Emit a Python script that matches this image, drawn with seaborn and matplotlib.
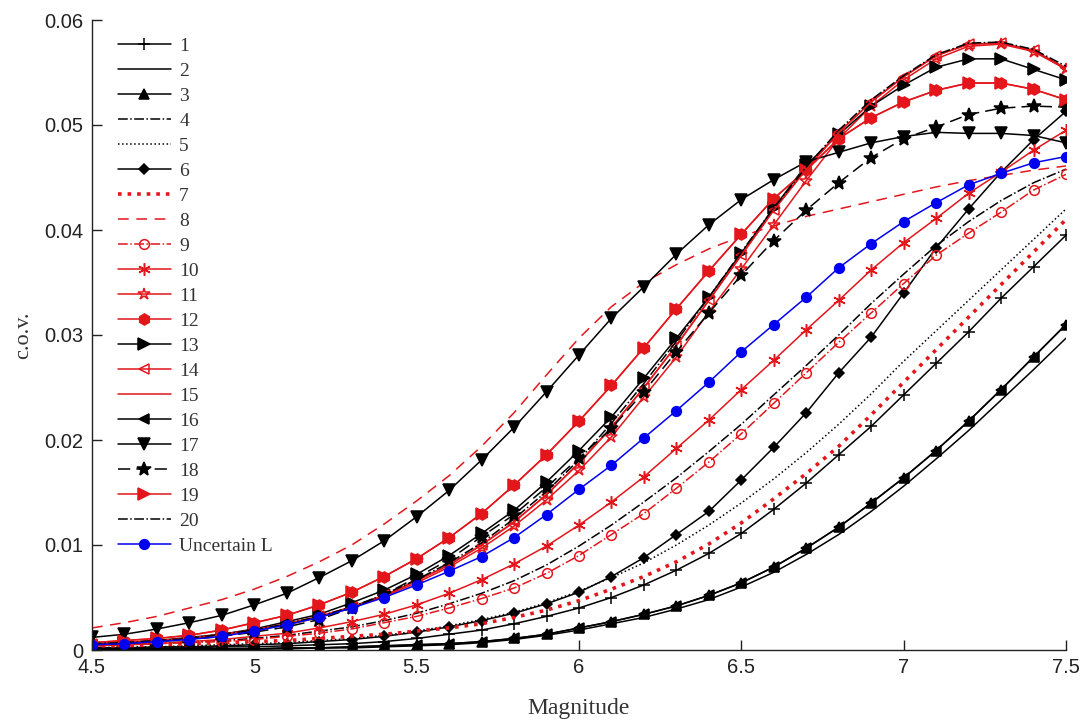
import numpy as np
import pandas as pd
import matplotlib
matplotlib.use("Agg")
import matplotlib.pyplot as plt
import seaborn as sns

magnitude = [4.5, 4.6, 4.7, 4.8, 4.9, 5.0, 5.1, 5.2, 5.3, 5.4, 5.5, 5.6, 5.7, 5.8, 5.9,
             6.0, 6.1, 6.2, 6.3, 6.4, 6.5, 6.6, 6.7, 6.8, 6.9, 7.0, 7.1, 7.2, 7.3, 7.4, 7.5]

s1 = [0.0002, 0.0002, 0.0002, 0.0002, 0.0003, 0.0003, 0.0004, 0.0005, 0.0006, 0.0008, 0.0011, 0.0015, 0.0019, 0.0025, 0.0032,
      0.0040, 0.0050, 0.0062, 0.0076, 0.0092, 0.0111, 0.0134, 0.0159, 0.0186, 0.0213, 0.0243, 0.0273, 0.0303, 0.0335, 0.0365, 0.0395]
s2 = [0.0000, 0.0000, 0.0000, 0.0001, 0.0001, 0.0001, 0.0001, 0.0002, 0.0002, 0.0003, 0.0004, 0.0005, 0.0007, 0.0010, 0.0014,
      0.0019, 0.0025, 0.0031, 0.0039, 0.0048, 0.0060, 0.0074, 0.0091, 0.0110, 0.0132, 0.0156, 0.0182, 0.0209, 0.0238, 0.0267, 0.0297]
s3 = [0.0001, 0.0001, 0.0001, 0.0001, 0.0001, 0.0001, 0.0002, 0.0002, 0.0003, 0.0004, 0.0005, 0.0006, 0.0008, 0.0011, 0.0015,
      0.0021, 0.0027, 0.0034, 0.0042, 0.0052, 0.0064, 0.0079, 0.0097, 0.0117, 0.0140, 0.0164, 0.0190, 0.0218, 0.0248, 0.0279, 0.0310]
s4 = [0.0004, 0.0005, 0.0006, 0.0008, 0.0009, 0.0011, 0.0014, 0.0018, 0.0022, 0.0028, 0.0035, 0.0044, 0.0054, 0.0066, 0.0081,
      0.0099, 0.0119, 0.0141, 0.0164, 0.0189, 0.0215, 0.0243, 0.0271, 0.0300, 0.0330, 0.0358, 0.0385, 0.0408, 0.0428, 0.0445, 0.0458]
s5 = [0.0002, 0.0003, 0.0003, 0.0004, 0.0005, 0.0006, 0.0007, 0.0009, 0.0011, 0.0014, 0.0018, 0.0023, 0.0029, 0.0036, 0.0045,
      0.0056, 0.0069, 0.0083, 0.0100, 0.0119, 0.0140, 0.0163, 0.0188, 0.0215, 0.0244, 0.0275, 0.0304, 0.0333, 0.0362, 0.0391, 0.0420]
s6 = [0.0002, 0.0002, 0.0003, 0.0003, 0.0004, 0.0005, 0.0006, 0.0008, 0.0010, 0.0013, 0.0017, 0.0022, 0.0028, 0.0035, 0.0044,
      0.0055, 0.0070, 0.0088, 0.0110, 0.0132, 0.0162, 0.0193, 0.0226, 0.0264, 0.0298, 0.0340, 0.0383, 0.0420, 0.0455, 0.0486, 0.0513]
s7 = [0.0004, 0.0004, 0.0005, 0.0006, 0.0007, 0.0008, 0.0009, 0.0011, 0.0013, 0.0015, 0.0018, 0.0021, 0.0025, 0.0031, 0.0038,
      0.0047, 0.0058, 0.0070, 0.0084, 0.0101, 0.0121, 0.0144, 0.0168, 0.0194, 0.0224, 0.0255, 0.0286, 0.0317, 0.0348, 0.0379, 0.0410]
s8 = [0.0021, 0.0026, 0.0032, 0.0040, 0.0048, 0.0058, 0.0070, 0.0084, 0.0100, 0.0120, 0.0142, 0.0166, 0.0194, 0.0226, 0.0262,
      0.0297, 0.0327, 0.0350, 0.0367, 0.0382, 0.0394, 0.0404, 0.0413, 0.0420, 0.0427, 0.0434, 0.0441, 0.0447, 0.0452, 0.0457, 0.0461]
s9 = [0.0004, 0.0005, 0.0006, 0.0007, 0.0008, 0.0010, 0.0013, 0.0016, 0.0020, 0.0026, 0.0032, 0.0040, 0.0049, 0.0059, 0.0073,
      0.0090, 0.0110, 0.0130, 0.0154, 0.0179, 0.0206, 0.0235, 0.0264, 0.0293, 0.0321, 0.0349, 0.0376, 0.0397, 0.0417, 0.0438, 0.0453]
s10 = [0.0004, 0.0005, 0.0006, 0.0008, 0.0010, 0.0013, 0.0016, 0.0021, 0.0027, 0.0034, 0.0043, 0.0054, 0.0067, 0.0082, 0.0099,
       0.0119, 0.0141, 0.0165, 0.0192, 0.0219, 0.0248, 0.0276, 0.0305, 0.0333, 0.0362, 0.0388, 0.0411, 0.0435, 0.0455, 0.0476, 0.0495]
s11 = [0.0006, 0.0007, 0.0009, 0.0011, 0.0015, 0.0019, 0.0024, 0.0031, 0.0040, 0.0051, 0.0064, 0.0079, 0.0097, 0.0118, 0.0143,
       0.0171, 0.0203, 0.0241, 0.0279, 0.0322, 0.0363, 0.0405, 0.0447, 0.0487, 0.0518, 0.0543, 0.0563, 0.0575, 0.0577, 0.0570, 0.0553]
s12 = [0.0007, 0.0009, 0.0011, 0.0014, 0.0019, 0.0026, 0.0033, 0.0043, 0.0055, 0.0070, 0.0087, 0.0107, 0.0130, 0.0157, 0.0186,
       0.0218, 0.0252, 0.0288, 0.0325, 0.0361, 0.0396, 0.0430, 0.0457, 0.0487, 0.0507, 0.0522, 0.0533, 0.0540, 0.0540, 0.0534, 0.0524]
s13 = [0.0006, 0.0007, 0.0009, 0.0012, 0.0015, 0.0020, 0.0027, 0.0034, 0.0045, 0.0057, 0.0072, 0.0090, 0.0111, 0.0133, 0.0160,
       0.0190, 0.0222, 0.0259, 0.0297, 0.0336, 0.0378, 0.0421, 0.0462, 0.0491, 0.0518, 0.0538, 0.0555, 0.0563, 0.0563, 0.0553, 0.0543]
s14 = [0.0006, 0.0007, 0.0009, 0.0011, 0.0015, 0.0019, 0.0025, 0.0032, 0.0041, 0.0052, 0.0066, 0.0081, 0.0100, 0.0122, 0.0148,
       0.0178, 0.0212, 0.0250, 0.0290, 0.0333, 0.0376, 0.0419, 0.0458, 0.0493, 0.0522, 0.0546, 0.0566, 0.0577, 0.0578, 0.0571, 0.0554]
s15 = [0.0006, 0.0007, 0.0009, 0.0011, 0.0015, 0.0019, 0.0025, 0.0032, 0.0041, 0.0052, 0.0066, 0.0081, 0.0100, 0.0122, 0.0148,
       0.0178, 0.0212, 0.0250, 0.0290, 0.0333, 0.0376, 0.0419, 0.0458, 0.0493, 0.0522, 0.0546, 0.0566, 0.0577, 0.0578, 0.0571, 0.0554]
s16 = [0.0001, 0.0001, 0.0001, 0.0001, 0.0001, 0.0001, 0.0002, 0.0002, 0.0003, 0.0004, 0.0005, 0.0006, 0.0008, 0.0011, 0.0015,
       0.0021, 0.0027, 0.0034, 0.0042, 0.0052, 0.0064, 0.0079, 0.0097, 0.0117, 0.0140, 0.0164, 0.0190, 0.0218, 0.0248, 0.0279, 0.0310]
s17 = [0.0012, 0.0015, 0.0020, 0.0026, 0.0033, 0.0043, 0.0054, 0.0069, 0.0085, 0.0104, 0.0127, 0.0152, 0.0181, 0.0212, 0.0246,
       0.0281, 0.0316, 0.0346, 0.0377, 0.0405, 0.0429, 0.0448, 0.0465, 0.0474, 0.0483, 0.0489, 0.0493, 0.0492, 0.0492, 0.0490, 0.0483]
s18 = [0.0005, 0.0006, 0.0008, 0.0010, 0.0013, 0.0017, 0.0022, 0.0029, 0.0040, 0.0053, 0.0069, 0.0086, 0.0108, 0.0129, 0.0155,
       0.0183, 0.0211, 0.0246, 0.0284, 0.0321, 0.0357, 0.0390, 0.0419, 0.0445, 0.0469, 0.0487, 0.0498, 0.0510, 0.0516, 0.0518, 0.0517]
s19 = [0.0007, 0.0009, 0.0011, 0.0014, 0.0019, 0.0026, 0.0033, 0.0043, 0.0055, 0.0070, 0.0087, 0.0107, 0.0130, 0.0157, 0.0186,
       0.0218, 0.0252, 0.0288, 0.0325, 0.0361, 0.0396, 0.0430, 0.0457, 0.0487, 0.0507, 0.0522, 0.0533, 0.0540, 0.0540, 0.0534, 0.0524]
s20 = [0.0006, 0.0007, 0.0009, 0.0011, 0.0015, 0.0019, 0.0025, 0.0032, 0.0041, 0.0053, 0.0067, 0.0083, 0.0102, 0.0125, 0.0151,
       0.0181, 0.0216, 0.0254, 0.0294, 0.0336, 0.0379, 0.0421, 0.0460, 0.0495, 0.0524, 0.0547, 0.0567, 0.0578, 0.0579, 0.0572, 0.0556]
uncertain_L = [0.0005, 0.0006, 0.0008, 0.0010, 0.0013, 0.0018, 0.0024, 0.0031, 0.0040, 0.0050, 0.0062, 0.0075, 0.0089, 0.0107, 0.0129,
               0.0153, 0.0176, 0.0202, 0.0228, 0.0255, 0.0284, 0.0310, 0.0336, 0.0364, 0.0387, 0.0408, 0.0426, 0.0443, 0.0454, 0.0464, 0.0470]

labels = [str(i) for i in range(1, 21)] + ["Uncertain L"]
series = [s1, s2, s3, s4, s5, s6, s7, s8, s9, s10, s11, s12, s13, s14, s15, s16, s17, s18, s19, s20, uncertain_L]

RED = "#e3161b"
BLK = "black"
BLUE = "#0000f0"
asterisk = (6, 2, 0)
styles = [
    dict(color=BLK, ls="-", marker="+", ms=9, mfc=BLK),
    dict(color=BLK, ls="-", marker=None),
    dict(color=BLK, ls="-", marker="^", ms=7, mfc=BLK),
    dict(color=BLK, ls="-.", marker=None),
    dict(color=BLK, ls=":", marker=None),
    dict(color=BLK, ls="-", marker="D", ms=5, mfc=BLK),
    dict(color=RED, ls=":", marker=None, lw=2.6),
    dict(color=RED, ls=(0, (7, 5)), marker=None),
    dict(color=RED, ls="-.", marker="o", ms=7, mfc="none"),
    dict(color=RED, ls="-", marker=asterisk, ms=9, mfc=RED),
    dict(color=RED, ls="-", marker="*", ms=9, mfc="none"),
    dict(color=RED, ls="-", marker="h", ms=8, mfc=RED),
    dict(color=BLK, ls="-", marker=">", ms=8, mfc=BLK),
    dict(color=RED, ls="-", marker="<", ms=7, mfc="none"),
    dict(color=RED, ls="-", marker=None),
    dict(color=BLK, ls="-", marker="<", ms=7, mfc=BLK),
    dict(color=BLK, ls="-", marker="v", ms=8, mfc=BLK),
    dict(color=BLK, ls=(0, (8, 4)), marker="*", ms=10, mfc=BLK),
    dict(color=RED, ls="-", marker=">", ms=8, mfc=RED),
    dict(color=BLK, ls="-.", marker=None),
    dict(color=BLUE, ls="-", marker="o", ms=7, mfc=BLUE),
]

sns.set_style("ticks")
plt.rcParams["font.family"] = ["Liberation Sans", "DejaVu Sans"]

fig = plt.figure(figsize=(10.86, 7.27), dpi=100)
ax = fig.add_axes([92 / 1086, 1 - 650 / 727, (1066 - 92) / 1086, (650 - 20) / 727])

for lab, vals, st in zip(labels, series, styles):
    df = pd.DataFrame({"Magnitude": magnitude, "cov": vals})
    st = dict(st)
    lw = st.pop("lw", 1.1)
    sns.lineplot(data=df, x="Magnitude", y="cov", ax=ax, label=lab,
                 color=st["color"], linestyle=st["ls"], marker=st["marker"],
                 markersize=st.get("ms", 6), markerfacecolor=st.get("mfc", st["color"]),
                 markeredgecolor=st["color"], markeredgewidth=1.1, linewidth=lw)

ax.set_xlim(4.5, 7.5)
ax.set_ylim(0, 0.06)
ax.set_xticks([4.5, 5, 5.5, 6, 6.5, 7, 7.5])
ax.set_xticklabels(["4.5", "5", "5.5", "6", "6.5", "7", "7.5"])
ax.set_yticks([0, 0.01, 0.02, 0.03, 0.04, 0.05, 0.06])
ax.set_yticklabels(["0", "0.01", "0.02", "0.03", "0.04", "0.05", "0.06"])
ax.tick_params(direction="in", length=7, width=1, labelsize=14.5, colors="#222222", pad=6)
for side in ["top", "right"]:
    ax.spines[side].set_visible(False)
for side in ["left", "bottom"]:
    ax.spines[side].set_linewidth(1.0)
    ax.spines[side].set_color("#222222")

ax.set_xlabel("Magnitude", fontsize=17, family=["Liberation Serif"], color="#333333", labelpad=15)
ax.set_ylabel("c.o.v.", fontsize=16, family=["Liberation Serif"], color="#333333", labelpad=8)

leg = ax.legend(loc="upper left", bbox_to_anchor=(118 / 1086, 1 - 37 / 727),
                bbox_transform=fig.transFigure, frameon=False, borderpad=0,
                borderaxespad=0, handlelength=2.7, handletextpad=0.45,
                labelspacing=0.38, prop={"family": "Liberation Serif", "size": 14})
for t in leg.get_texts():
    t.set_color("#333333")

fig.savefig("out.png", dpi=100)
